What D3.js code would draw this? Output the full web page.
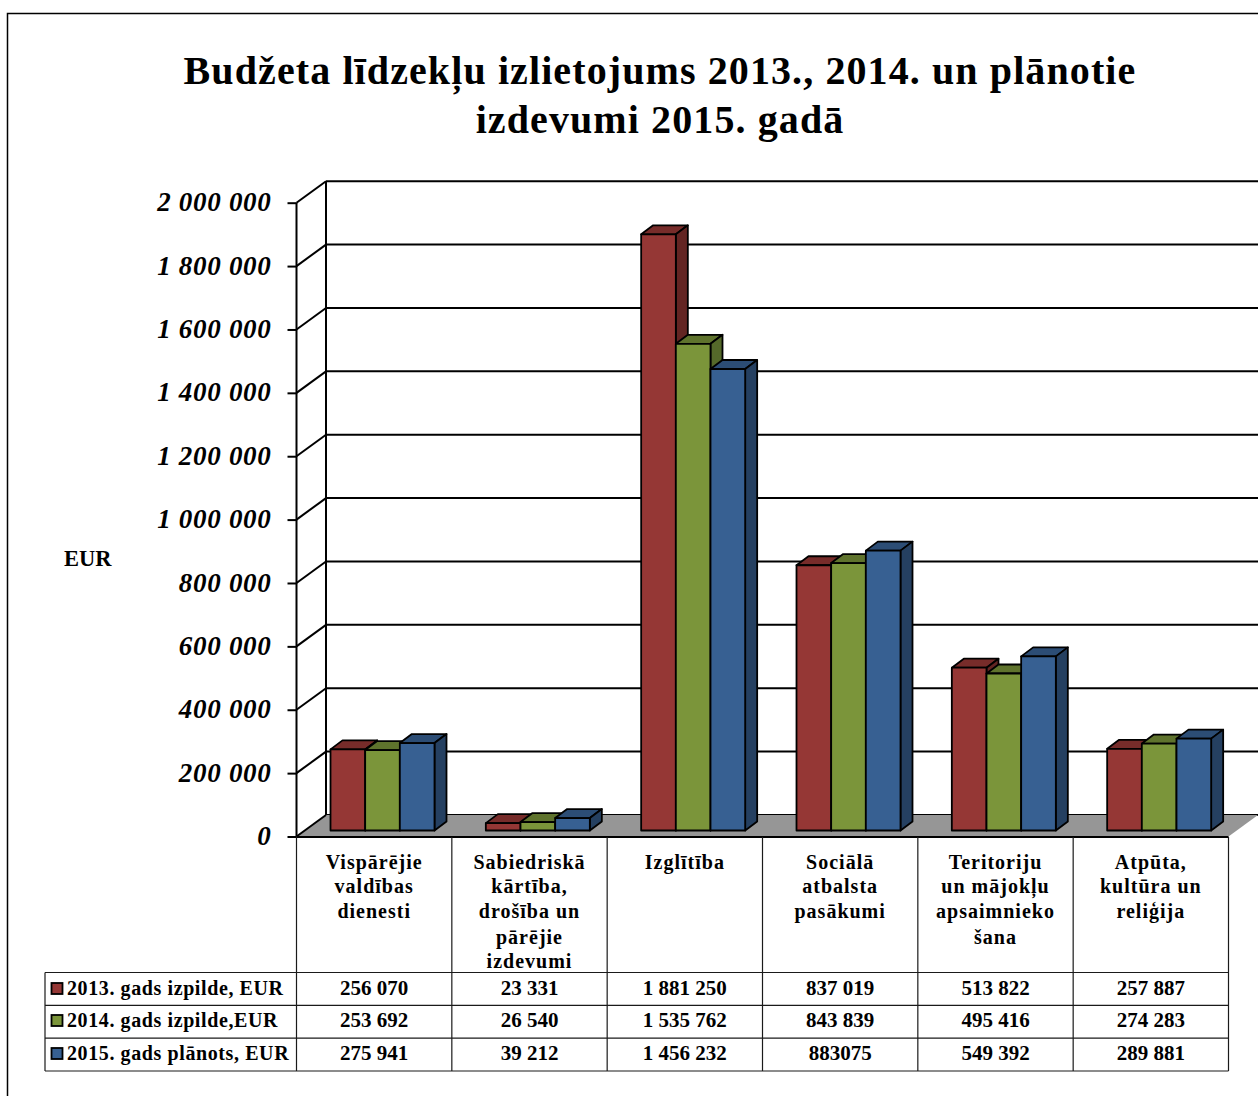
<!DOCTYPE html>
<html>
<head>
<meta charset="utf-8">
<script src="https://cdn.jsdelivr.net/npm/d3@7"></script>
<style>
  html, body { margin: 0; padding: 0; background: #fff; }
  svg { display: block; }
  text { font-family: "Liberation Serif", serif; font-weight: bold; fill: #000; }
</style>
</head>
<body>
<svg id="chart" width="1258" height="1096"></svg>
<script>
var titleLines = ["Budžeta līdzekļu izlietojums 2013., 2014. un plānotie", "izdevumi 2015. gadā"];
var categories = [
  ["Vispārējie", "valdības", "dienesti"],
  ["Sabiedriskā", "kārtība,", "drošība un", "pārējie", "izdevumi"],
  ["Izglītība"],
  ["Sociālā", "atbalsta", "pasākumi"],
  ["Teritoriju", "un mājokļu", "apsaimnieko", "šana"],
  ["Atpūta,", "kultūra un", "reliģija"]
];
var seriesNames = ["2013. gads izpilde, EUR", "2014. gads izpilde,EUR", "2015. gads plānots, EUR"];
var values2013 = [256070, 23331, 1881250, 837019, 513822, 257887];
var values2014 = [253692, 26540, 1535762, 843839, 495416, 274283];
var values2015 = [275941, 39212, 1456232, 883075, 549392, 289881];
var labels2013 = ["256 070", "23 331", "1 881 250", "837 019", "513 822", "257 887"];
var labels2014 = ["253 692", "26 540", "1 535 762", "843 839", "495 416", "274 283"];
var labels2015 = ["275 941", "39 212", "1 456 232", "883075", "549 392", "289 881"];
var yTicks = [0, 200000, 400000, 600000, 800000, 1000000, 1200000, 1400000, 1600000, 1800000, 2000000];

var front = ["#953735", "#7b953a", "#376092"];
var topFace = ["#772c2a", "#5f732d", "#2c4d75"];
var sideFace = ["#632523", "#55692a", "#254061"];

var svg = d3.select("#chart");

// outer frame, only top and left show in the crop
svg.append("path").attr("d", "M7.5,1096V13.5H1258").attr("fill", "none").attr("stroke", "#000").attr("stroke-width", 1.5);

// title
svg.selectAll(".title").data(titleLines).enter().append("text")
    .attr("class", "title")
    .attr("x", 660)
    .attr("y", function(d, i) { return 84 + i * 49; })
    .attr("text-anchor", "middle")
    .style("font-size", "40px")
    .style("letter-spacing", "1.1px")
    .text(function(d) { return d; });

var x = d3.scaleBand().domain(d3.range(categories.length)).range([296.5, 1228.5]);
var y = d3.scaleLinear().domain([0, 2000000]).range([836.5, 202.7]);
var inner = d3.scaleBand().domain([0, 1, 2]).range([34, 138]);

var wallDx = 29.5, wallDy = -21.5;   // depth of the 3d box
var barDx = 12, barDy = -9;          // depth of one bar
var barLift = -6;                    // bars stand a bit behind the front edge

var fmt = d3.formatLocale({ decimal: ".", thousands: " ", grouping: [3], currency: ["", ""] }).format(",d");

// back wall gridlines
svg.append("g").selectAll("line").data(yTicks).enter().append("line")
    .attr("x1", 296.5 + wallDx).attr("x2", 1258)
    .attr("y1", function(d) { return y(d) + wallDy; })
    .attr("y2", function(d) { return y(d) + wallDy; })
    .attr("stroke", "#000").attr("stroke-width", 2);

// floor
svg.append("polygon")
    .attr("points", [[296.5, y(0)], [1228.5, y(0)], [1228.5 + wallDx, y(0) + wallDy], [296.5 + wallDx, y(0) + wallDy]].join(" "))
    .attr("fill", "#969696");

// left wall
svg.append("line").attr("x1", 296.5 + wallDx).attr("x2", 296.5 + wallDx)
    .attr("y1", y(2000000) + wallDy).attr("y2", y(0) + wallDy)
    .attr("stroke", "#000").attr("stroke-width", 2);
svg.append("g").selectAll("line").data(yTicks).enter().append("line")
    .attr("x1", 296.5).attr("x2", 296.5 + wallDx)
    .attr("y1", function(d) { return y(d); })
    .attr("y2", function(d) { return y(d) + wallDy; })
    .attr("stroke", "#000").attr("stroke-width", 2);

// y axis
var yAxis = svg.append("g")
    .attr("transform", "translate(296.5,0)")
    .call(d3.axisLeft(y).tickValues(yTicks).tickSize(9).tickPadding(16).tickFormat(function(d) { return fmt(d); }));
yAxis.selectAll("path, line").attr("stroke", "#000").attr("stroke-width", 2);
yAxis.select(".domain").attr("d", "M0," + y(2000000) + "V" + y(0));
yAxis.selectAll("text")
    .style("font-family", "'Liberation Serif', serif")
    .style("font-size", "27px")
    .style("font-style", "italic")
    .style("letter-spacing", "0.7px")
    .attr("dy", "0.3em");

svg.append("text").attr("x", 64).attr("y", 566).style("font-size", "22.5px").text("EUR");

// bars, left to right so each front hides the side of the one before
var allValues = [values2013, values2014, values2015];
var bars = [];
categories.forEach(function(c, i) {
  allValues.forEach(function(vals, s) {
    bars.push({ cat: i, s: s, v: vals[i] });
  });
});
var bar = svg.append("g").selectAll("g").data(bars).enter().append("g")
    .attr("stroke", "#000").attr("stroke-width", 1.8).attr("stroke-linejoin", "round");

function corners(d) {
  var x0 = x(d.cat) + inner(d.s), x1 = x0 + inner.bandwidth();
  return { x0: x0, x1: x1, y0: y(d.v) + barLift, y1: y(0) + barLift };
}
bar.append("polygon")
    .attr("fill", function(d) { return topFace[d.s]; })
    .attr("points", function(d) {
      var c = corners(d);
      return [[c.x0, c.y0], [c.x1, c.y0], [c.x1 + barDx, c.y0 + barDy], [c.x0 + barDx, c.y0 + barDy]].join(" ");
    });
bar.append("polygon")
    .attr("fill", function(d) { return sideFace[d.s]; })
    .attr("points", function(d) {
      var c = corners(d);
      return [[c.x1, c.y0], [c.x1 + barDx, c.y0 + barDy], [c.x1 + barDx, c.y1 + barDy], [c.x1, c.y1]].join(" ");
    });
bar.append("rect")
    .attr("fill", function(d) { return front[d.s]; })
    .attr("x", function(d) { return corners(d).x0; })
    .attr("y", function(d) { return corners(d).y0; })
    .attr("width", inner.bandwidth())
    .attr("height", function(d) { var c = corners(d); return c.y1 - c.y0; });

// data table
var rowY = d3.scaleBand().domain([0, 1, 2]).range([972.5, 1071]);
var table = svg.append("g").attr("fill", "none").attr("stroke", "#1a1a1a").attr("stroke-width", 1.2);
table.append("line").attr("x1", 296.5).attr("x2", 1228.5).attr("y1", 837).attr("y2", 837).attr("stroke", "#000").attr("stroke-width", 2);
table.append("line").attr("x1", 45).attr("x2", 45).attr("y1", 972.5).attr("y2", 1071);
d3.range(4).forEach(function(r) {
  var ry = r < 3 ? rowY(r) : 1071;
  table.append("line").attr("x1", 45).attr("x2", 1228.5).attr("y1", ry).attr("y2", ry);
});
d3.range(7).forEach(function(c) {
  var cx = c < 6 ? x(c) : 1228.5;
  table.append("line").attr("x1", cx).attr("x2", cx).attr("y1", 837).attr("y2", 1071);
});

// category labels
var catG = svg.append("g").selectAll("g").data(categories).enter().append("g");
catG.selectAll("text").data(function(d, i) { return d.map(function(t) { return { t: t, i: i }; }); })
  .enter().append("text")
    .attr("x", function(d) { return x(d.i) + x.bandwidth() / 2; })
    .attr("y", function(d, j) { return [869, 893, 918, 944, 968][j]; })
    .attr("text-anchor", "middle")
    .style("font-size", "20px")
    .style("letter-spacing", "1px")
    .text(function(d) { return d.t; });

// table rows
var allLabels = [labels2013, labels2014, labels2015];
var rowBase = [995, 1027, 1060];
allLabels.forEach(function(labels, r) {
  var base = rowBase[r];
  svg.append("rect")
      .attr("x", 51.5).attr("y", base - 12)
      .attr("width", 11).attr("height", 11)
      .attr("fill", front[r]).attr("stroke", "#000").attr("stroke-width", 1.8);
  svg.append("text").attr("x", 67).attr("y", base)
      .style("font-size", "20px").style("letter-spacing", "0.6px")
      .text(seriesNames[r]);
  svg.append("g").selectAll("text").data(labels).enter().append("text")
      .attr("x", function(d, i) { return x(i) + x.bandwidth() / 2; })
      .attr("y", base)
      .attr("text-anchor", "middle")
      .style("font-size", "21px")
      .text(function(d) { return d; });
});
</script>
</body>
</html>
